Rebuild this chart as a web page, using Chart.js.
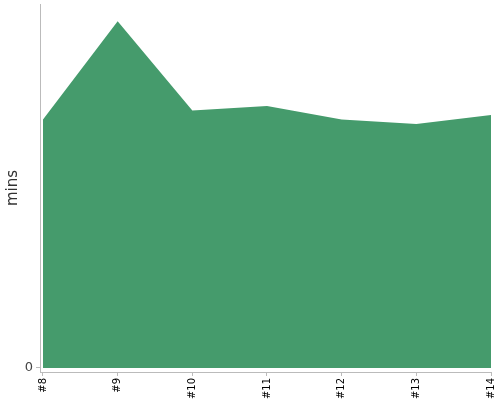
<!DOCTYPE html>
<html>
<head>
<meta charset="utf-8">
<script src="https://cdn.jsdelivr.net/npm/chart.js@4/dist/chart.umd.min.js"></script>
<style>
  html, body { margin: 0; padding: 0; background: #fff; }
  #wrap { width: 500px; height: 400px; }
</style>
</head>
<body>
<div id="wrap"><canvas id="chart"></canvas></div>
<script>
// build numbers along the x axis
const builds = ['#8', '#9', '#10', '#11', '#12', '#13', '#14'];
// duration per build, in minutes
const durations = [27.3, 38.1, 28.3, 28.8, 27.3, 26.8, 27.8];
// only the zero tick is labelled on the y axis
const yTicks = [0];
const yMax = 40;

const green = 'rgb(69, 155, 108)';
const axisGrey = '#bbbbbb';

// points placed by build index so the axis can sit a little left of the first build
const points = durations.map(function(v, i) { return { x: i, y: v }; });

// drop the extra padding chart.js adds around tick labels
function noPadding(scale) {
  scale.paddingTop = 0;
  scale.paddingBottom = 0;
  scale.paddingLeft = 0;
  scale.paddingRight = 0;
}

new Chart(document.getElementById('chart'), {
  type: 'line',
  data: {
    datasets: [{
      data: points,
      fill: 'origin',
      backgroundColor: green,
      borderWidth: 0,
      pointRadius: 0,
      tension: 0
    }]
  },
  options: {
    responsive: true,
    maintainAspectRatio: false,
    animation: false,
    layout: { padding: { top: 4, right: 9, left: 0, bottom: 0 } },
    plugins: {
      legend: { display: false },
      tooltip: { enabled: false }
    },
    scales: {
      x: {
        type: 'linear',
        min: -0.04,
        max: builds.length - 1,
        afterBuildTicks: function(scale) {
          scale.ticks = builds.map(function(b, i) { return { value: i }; });
        },
        grid: { drawOnChartArea: false, drawTicks: true, tickLength: 4, color: axisGrey },
        border: { display: true, color: axisGrey },
        ticks: {
          color: '#000',
          font: { family: 'DejaVu Sans', size: 10 },
          minRotation: 90,
          maxRotation: 90,
          autoSkip: false,
          padding: 2,
          callback: function(value) { return builds[value]; }
        },
        afterFit: function(scale) {
          scale.height = 28;
          noPadding(scale);
        }
      },
      y: {
        min: -0.44,
        max: yMax,
        afterBuildTicks: function(scale) {
          scale.ticks = yTicks.map(function(v) { return { value: v }; });
        },
        grid: { drawOnChartArea: false, drawTicks: true, tickLength: 4, color: axisGrey },
        border: { display: true, color: axisGrey },
        ticks: {
          color: '#444',
          font: { family: 'DejaVu Sans', size: 13 },
          padding: 3
        },
        title: {
          display: true,
          text: 'mins',
          color: '#333',
          font: { family: 'DejaVu Sans', size: 15 },
          padding: { top: 4, bottom: 0 }
        },
        afterFit: function(scale) {
          scale.width = 40;
          noPadding(scale);
        }
      }
    }
  }
});
</script>
</body>
</html>
